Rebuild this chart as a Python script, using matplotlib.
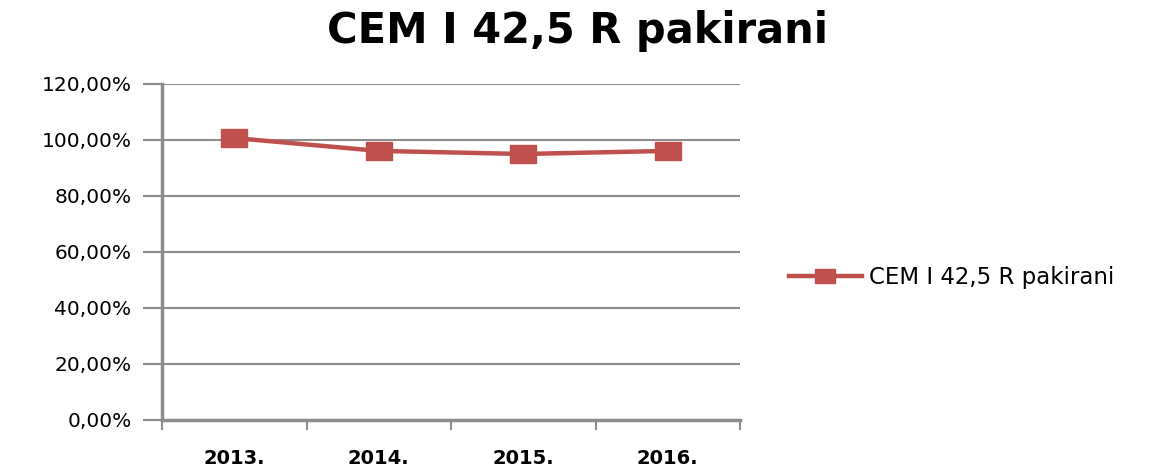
import matplotlib
matplotlib.use("Agg")
import matplotlib.pyplot as plt
from matplotlib.ticker import FuncFormatter

# data
years = ["2013.", "2014.", "2015.", "2016."]
values = [100.7, 96.1, 95.0, 96.1]
series_name = "CEM I 42,5 R pakirani"
y_ticks = [0, 20, 40, 60, 80, 100, 120]

red = "#C0504D"
grid_gray = "#8C8C8C"

# wide rectangle marker, like the stretched excel square
rect_marker = [(-1.45, -1), (1.45, -1), (1.45, 1), (-1.45, 1), (-1.45, -1)]

fig = plt.figure(figsize=(11.5, 4.7), dpi=100)
ax = fig.add_axes([0.1409, 0.1064, 0.5026, 0.7149])

x = list(range(len(years)))
ax.plot(x, values, color=red, linewidth=3.2, marker=rect_marker, markersize=19,
        label=series_name)

ax.set_xlim(-0.5, len(years) - 0.5)
ax.set_ylim(0, 120)
ax.set_yticks(y_ticks)
ax.yaxis.set_major_formatter(FuncFormatter(lambda v, p: f"{v:.2f}".replace(".", ",") + "%"))
ax.set_xticks(x)
ax.set_xticklabels(years, fontweight="bold", fontsize=14)
ax.set_xticks([i + 0.5 for i in range(-1, len(years))], minor=True)
ax.tick_params(axis="x", which="major", length=0, pad=21)
ax.tick_params(axis="x", which="minor", length=7, width=1.5, color=grid_gray)
ax.tick_params(axis="y", length=14, width=1.5, color=grid_gray, labelsize=14.5, pad=8)

ax.grid(axis="y", color=grid_gray, linewidth=1.5)
ax.set_axisbelow(True)
for side in ["top", "right"]:
    ax.spines[side].set_visible(False)
for side in ["left", "bottom"]:
    ax.spines[side].set_color(grid_gray)
    ax.spines[side].set_linewidth(2.5)

fig.suptitle(series_name, x=0.502, y=0.978, fontsize=30, fontweight="bold")

leg = fig.legend(loc="center left", bbox_to_anchor=(0.668, 0.41), frameon=False,
                 fontsize=16.5, handlelength=3.2, handletextpad=0.3, markerscale=0.75)

fig.savefig("out.png", dpi=100)
